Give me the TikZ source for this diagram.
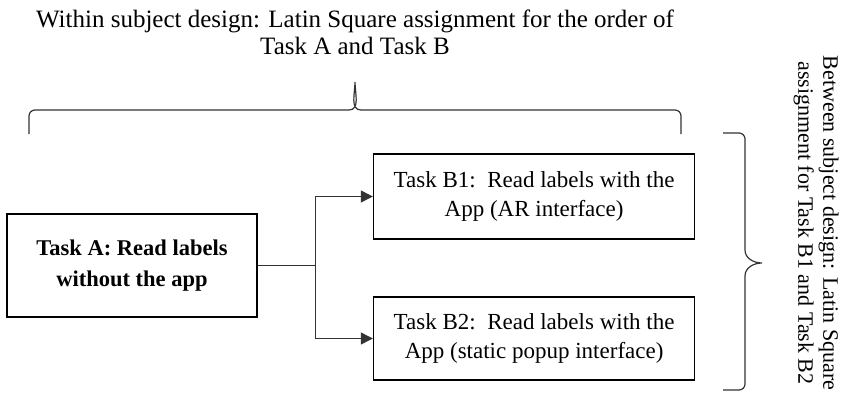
\documentclass[tikz,border=0pt]{standalone}
\usepackage{fontspec}
\setmainfont{Liberation Serif}
\usetikzlibrary{arrows.meta,positioning}
\colorlet{LineGray}{black!80}
\newcommand{\diagfont}{\fontsize{23}{29}\selectfont}

\begin{document}
\begin{tikzpicture}[
  x=1pt, y=-1pt,
  font=\diagfont,
  task/.style={rectangle, draw, line width=1.6pt, align=center, inner sep=0pt, font=\diagfont},
  arrow/.style={-{Triangle[length=12pt,width=12pt]}, line width=1.2pt, LineGray},
  brace/.style={line width=1.2pt, LineGray}
]
\useasboundingbox (0,0) rectangle (842,417);

% Task A
\node[task, minimum width=250pt, minimum height=103pt, font=\fontsize{22.5}{31}\selectfont\bfseries] (taska) at (132,265.5) {Task A: Read labels\\without the app};

% Tasks B1 and B2
\node[task, minimum width=321pt, minimum height=85pt, right=115pt of taska, yshift=69pt] (taskb1) {Task B1:\enspace Read labels with the\\App (AR interface)};
\node[task, minimum width=321pt, minimum height=83pt, right=115pt of taska, yshift=-73pt] (taskb2) {Task B2:\enspace Read labels with the\\App (static popup interface)};

% Arrows
\draw[line width=1.2pt, LineGray] (taska.east) -- ++(58,0) coordinate (split);
\draw[arrow] (split) |- (taskb1.west);
\draw[arrow] (split) |- (taskb2.west);

% Within subject brace
\node[align=center, font=\fontsize{25}{27}\selectfont] (within) at (355,32) {Within subject design: Latin Square assignment for the order of\\Task A and Task B};
\draw[brace] (29,134) -- (29,116) to[out=90,in=180] (35,110) -- (349,110)
  to[out=0,in=-90] (355,82) to[out=-90,in=180] (361,110) -- (675,110)
  to[out=0,in=90] (681,116) -- (681,134);

% Between subject brace
\draw[brace] (723,133) -- (739,133) to[out=0,in=90] (745,139) -- (745,250)
  to[out=-90,in=180] (762,263) to[out=180,in=90] (745,276) -- (745,384)
  to[out=-90,in=0] (739,390) -- (723,390);
\node[rotate=-90, align=center, font=\fontsize{22}{25}\selectfont] (between) at (816,223) {Between subject design: Latin Square\\assignment for Task B1 and Task B2};

\end{tikzpicture}
\end{document}
